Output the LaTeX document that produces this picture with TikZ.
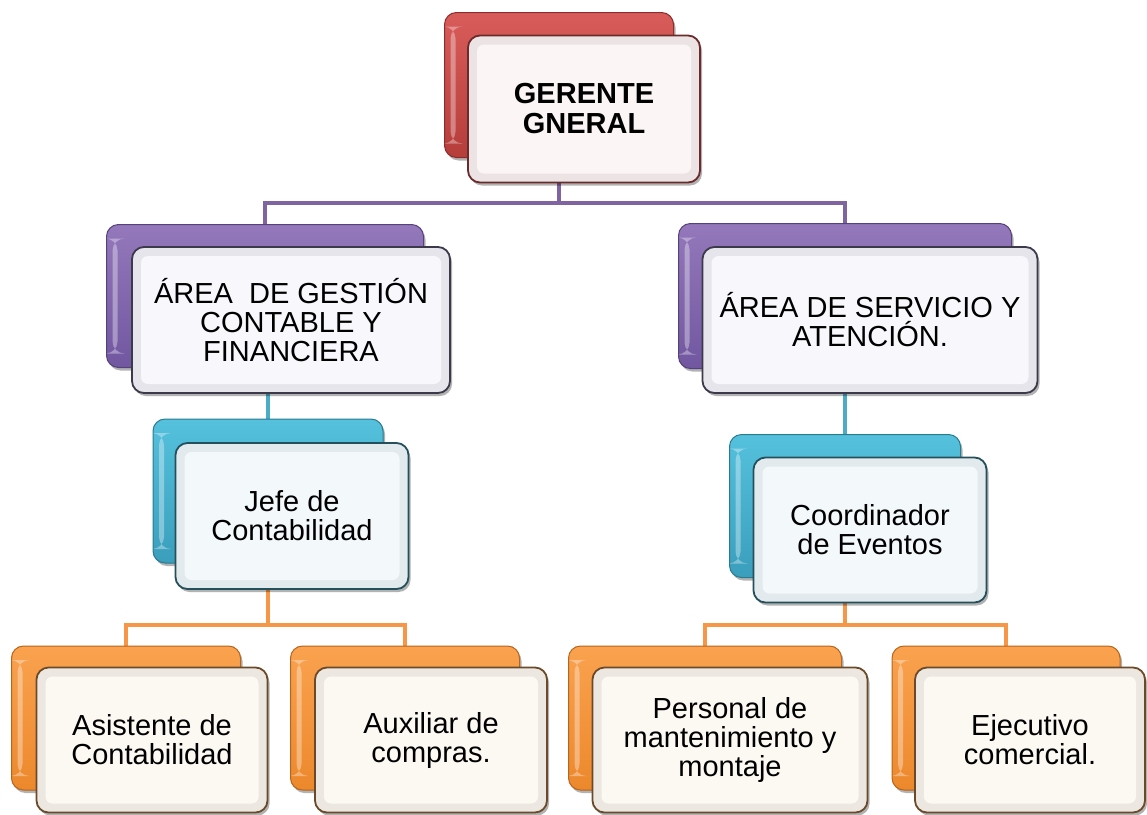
\documentclass[tikz,border=0pt]{standalone}
\usepackage{fontspec}
\setmainfont{Liberation Sans}
\usetikzlibrary{shadows}
\pgfdeclarelayer{bg}
\pgfsetlayers{bg,main}
\definecolor{redT}{HTML}{D85C5A}
\definecolor{redB}{HTML}{B53D3A}
\definecolor{redD}{HTML}{8C2D2B}
\definecolor{redF}{HTML}{6B2B2A}
\definecolor{redO}{HTML}{ECE4E4}
\definecolor{redI}{HTML}{FBF5F5}
\definecolor{purT}{HTML}{9478BB}
\definecolor{purB}{HTML}{7157A0}
\definecolor{purD}{HTML}{56427A}
\definecolor{purF}{HTML}{3C3A4A}
\definecolor{purO}{HTML}{E7E5EC}
\definecolor{purI}{HTML}{F8F7FB}
\definecolor{cyaT}{HTML}{55C1DD}
\definecolor{cyaB}{HTML}{3A9EBC}
\definecolor{cyaD}{HTML}{2A7A90}
\definecolor{cyaF}{HTML}{24505C}
\definecolor{cyaO}{HTML}{E3EAED}
\definecolor{cyaI}{HTML}{F3F8FA}
\definecolor{oraT}{HTML}{FAA24F}
\definecolor{oraB}{HTML}{EC882C}
\definecolor{oraD}{HTML}{B5651D}
\definecolor{oraF}{HTML}{6B4A2A}
\definecolor{oraO}{HTML}{ECE7E1}
\definecolor{oraI}{HTML}{FCF8F2}
\definecolor{lnP}{HTML}{8064A2}
\definecolor{lnC}{HTML}{4BACC6}
\definecolor{lnO}{HTML}{F79646}
\tikzset{
  box/.style={rectangle, rounded corners=12pt,
    drop shadow={shadow xshift=2pt, shadow yshift=-3pt, opacity=.3, fill=black}},
  backbox/.style n args={3}{box, line width=1pt, top color=#1, bottom color=#2, draw=#3,
    path picture={\fill[white, opacity=.35]
      ([shift={(6pt,-14pt)}]path picture bounding box.north west) rectangle
      ([shift={(11pt,14pt)}]path picture bounding box.south west);}},
  frontbox/.style n args={3}{box, line width=1.8pt, draw=#1, fill=#2, align=center,
    text=black, font=\fontsize{29}{29}\selectfont,
    path picture={\fill[#3, rounded corners=7pt]
      ([shift={(9pt,-9pt)}]path picture bounding box.north west) rectangle
      ([shift={(-9pt,9pt)}]path picture bounding box.south east);}},
  bkR/.style={backbox={redT}{redB}{redD}},
  bkP/.style={backbox={purT}{purB}{purD}},
  bkC/.style={backbox={cyaT}{cyaB}{cyaD}},
  bkO/.style={backbox={oraT}{oraB}{oraD}},
  frR/.style={frontbox={redF}{redO}{redI}},
  frP/.style={frontbox={purF}{purO}{purI}},
  frC/.style={frontbox={cyaF}{cyaO}{cyaI}},
  frO/.style={frontbox={oraF}{oraO}{oraI}},
  conP/.style={draw=lnP, line width=4.5pt},
  conC/.style={draw=lnC, line width=4.5pt},
  conO/.style={draw=lnO, line width=4.5pt},
}
\begin{document}
\begin{tikzpicture}[x=1pt, y=-1pt]
\useasboundingbox (0,0) rectangle (1147,814);
% top
\node[bkR, minimum width=229pt, minimum height=145pt] (ggb) at (559,85) {};
\node[frR, minimum width=232pt, minimum height=147pt, font=\fontsize{29}{30}\selectfont\bfseries] (gg) at (584,109) {GERENTE\\GNERAL};
% areas
\node[bkP, minimum width=317pt, minimum height=143pt] (a1b) at (265,296) {};
\node[frP, minimum width=318pt, minimum height=146pt] (a1) at (291,320) {ÁREA~ DE GESTIÓN\\CONTABLE Y\\FINANCIERA};
\node[bkP, minimum width=333pt, minimum height=145pt] (a2b) at (845,296) {};
\node[frP, minimum width=335pt, minimum height=146pt] (a2) at (870,320) {ÁREA DE SERVICIO Y\\ATENCIÓN.};
% second level
\node[bkC, minimum width=230pt, minimum height=144pt] (jb) at (268,491) {};
\node[frC, minimum width=233pt, minimum height=146pt] (j) at (292,516) {Jefe de\\Contabilidad};
\node[bkC, minimum width=231pt, minimum height=143pt] (cb) at (845,506) {};
\node[frC, minimum width=233pt, minimum height=145pt] (c) at (870,530) {Coordinador\\de Eventos};
% third level
\node[bkO, minimum width=229pt, minimum height=144pt] (o1b) at (126,718) {};
\node[frO, minimum width=231pt, minimum height=145pt] (o1) at (152,740) {Asistente de\\Contabilidad};
\node[bkO, minimum width=229pt, minimum height=144pt] (o2b) at (405,718) {};
\node[frO, minimum width=232pt, minimum height=145pt] (o2) at (431,740) {Auxiliar de\\compras.};
\node[bkO, minimum width=273pt, minimum height=144pt] (o3b) at (705,718) {};
\node[frO, minimum width=275pt, minimum height=145pt] (o3) at (730,740) {Personal de\\mantenimiento y\\montaje};
\node[bkO, minimum width=228pt, minimum height=144pt] (o4b) at (1006,718) {};
\node[frO, minimum width=230pt, minimum height=145pt] (o4) at (1030,740) {Ejecutivo\\comercial.};
% buses
\coordinate (busP) at (0,203);
\coordinate (busL) at (0,625);
\coordinate (busR) at (0,625);
\begin{pgfonlayer}{bg}
\draw[conP] (ggb.south) -- (ggb.south |- busP);
\draw[conP] (a1b.north) |- (ggb.south |- busP) -| (a2b.north);
\draw[conC] (jb.north) -- (jb.north |- a1b.south);
\draw[conC] (cb.north) -- (cb.north |- a2b.south);
\draw[conO] (jb.south) -- (jb.south |- busL);
\draw[conO] (o1b.north) |- (jb.south |- busL) -| (o2b.north);
\draw[conO] (cb.south) -- (cb.south |- busR);
\draw[conO] (o3b.north) |- (cb.south |- busR) -| (o4b.north);
\end{pgfonlayer}
\end{tikzpicture}
\end{document}
